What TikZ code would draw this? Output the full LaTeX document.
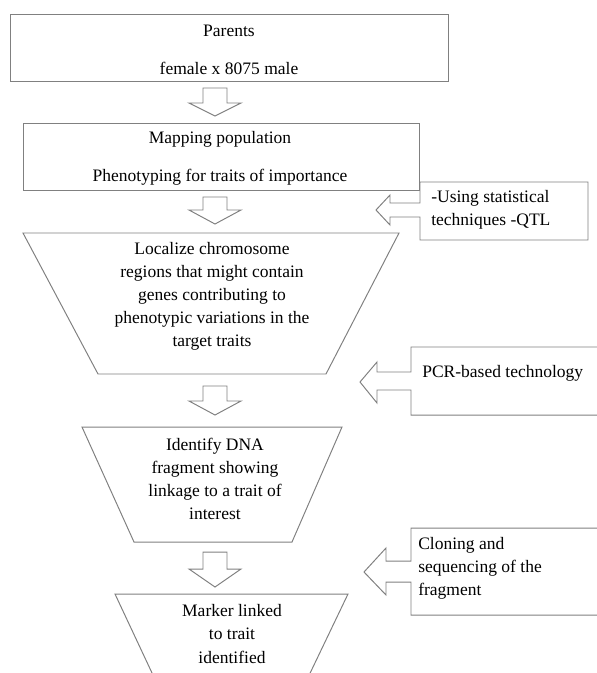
\documentclass[tikz,border=0pt]{standalone}
\usepackage{fontspec}
\setmainfont{Liberation Serif}
\definecolor{linegray}{RGB}{128,128,128}
\tikzset{
    outline/.style={draw=linegray, line width=0.7pt, line join=miter},
    txt/.style={align=center, inner sep=0pt, font=\fontsize{12.45}{16.4}\selectfont},
    sidetxt/.style={txt, align=left, anchor=west},
}
% hollow block arrow pointing down: top of stem, base of head, tip
\newcommand{\downblock}[3]{\draw[outline] (203,#1) -- (227,#1) -- (227,#2) -- (241,#2) -- (215,#3) -- (189,#2) -- (203,#2) -- cycle;}
\begin{document}
\begin{tikzpicture}[x=0.025cm, y=-0.025cm]
    \clip (0,0) rectangle (597,673);
    \draw[outline] (10,14) rectangle (448,81);
    \draw[outline] (23,123) rectangle (419,190);
    \draw[outline] (23,233) -- (399,233) -- (326,374) -- (98,374) -- cycle;
    \draw[outline] (82,427) -- (342,427) -- (292,542) -- (134,542) -- cycle;
    \draw[outline] (160,690) -- (115,594) -- (348,594) -- (302,690);
    \downblock{88}{103}{116}
    \downblock{197}{210}{224}
    \downblock{386}{401}{415}
    \downblock{552}{569}{587}
    % callouts on the right
    \draw[outline] (588,182) -- (420,182) -- (420,203) -- (390,203) -- (390,195) -- (376,210)
        -- (390,225) -- (390,217) -- (420,217) -- (420,240) -- (588,240) -- cycle;
    \draw[outline] (620,347) -- (411,347) -- (411,372) -- (377,372) -- (377,362) -- (360,382)
        -- (377,403) -- (377,390) -- (411,390) -- (411,415) -- (620,415);
    \draw[outline] (620,528) -- (411,528) -- (411,561) -- (386,561) -- (386,548) -- (364,572)
        -- (386,595) -- (386,582) -- (411,582) -- (411,615) -- (620,615);
    \node[txt] (parents) at (229,31) {Parents};
    \node[txt] (cross) at (229,68) {female x 8075 male};
    \node[txt] (mappop) at (220,139) {Mapping population};
    \node[txt] (pheno) at (220,177) {Phenotyping for traits of importance};
    \node[txt] (localize) at (212,296) {Localize chromosome\\regions that might contain\\genes contributing to\\phenotypic variations in the\\target traits};
    \node[txt] (identify) at (215,479) {Identify DNA\\fragment showing\\linkage to a trait of\\interest};
    \node[txt] (marker) at (232,634) {Marker linked\\to trait\\identified};
    \node[sidetxt] (stats) at (431,210) {-Using statistical\\techniques -QTL};
    \node[sidetxt] (pcr) at (422,373) {PCR-based technology};
    \node[sidetxt] (cloning) at (418,568) {Cloning and\\sequencing of the\\fragment};
\end{tikzpicture}
\end{document}
